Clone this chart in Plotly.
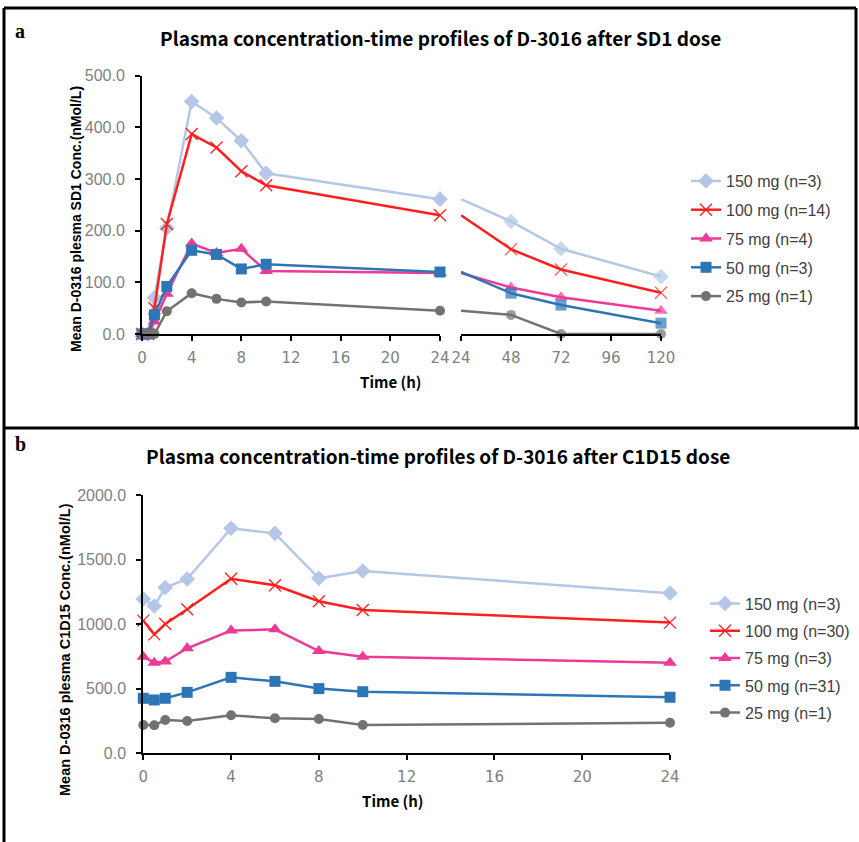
import plotly.graph_objects as go

W, H = 859, 842

# ---------------- data ----------------
doses = ["150 mg", "100 mg", "75 mg", "50 mg", "25 mg"]
n_a = ["n=3", "n=14", "n=4", "n=3", "n=1"]
n_b = ["n=3", "n=30", "n=3", "n=31", "n=1"]

t_a = [0, 0.5, 1, 2, 4, 6, 8, 10, 24]
t_a_late = [24, 48, 72, 120]
a150 = [0, 0, 70, 205, 450, 418, 374, 311, 261]
a100 = [0, 0, 50, 213, 387, 361, 315, 288, 230]
a75 = [0, 0, 24, 78, 175, 157, 165, 122, 118]
a50 = [0, 0, 37, 92, 162, 154, 126, 135, 120]
a25 = [0, 0, 0, 44, 79, 68, 61, 63, 45]
a150_late = [261, 218, 165, 111]
a100_late = [230, 164, 125, 80]
a75_late = [118, 90, 71, 45]
a50_late = [120, 79, 56, 21]
a25_late = [45, 37, 0, 0]

t_b = [0, 0.5, 1, 2, 4, 6, 8, 10, 24]
b150 = [1195, 1141, 1283, 1350, 1742, 1703, 1355, 1412, 1240]
b100 = [1027, 921, 1001, 1115, 1352, 1301, 1177, 1110, 1012]
b75 = [748, 702, 710, 813, 950, 960, 792, 748, 702]
b50 = [426, 413, 426, 472, 588, 557, 501, 477, 434]
b25 = [219, 217, 258, 250, 294, 271, 266, 219, 237]

ticks_a1 = [0, 4, 8, 12, 16, 20, 24]
ticks_a2 = [24, 48, 72, 96, 120]
ticks_b = [0, 4, 8, 12, 16, 20, 24]

title_a = "Plasma concentration-time profiles of D-3016 after SD1 dose"
title_b = "Plasma concentration-time profiles of D-3016 after C1D15 dose"
ytitle_a = "Mean D-0316 plesma SD1 Conc.(nMol/L)"
ytitle_b = "Mean D-0316 plesma C1D15 Conc.(nMol/L)"
xtitle = "Time (h)"

# ---------------- styles ----------------
colors = ["#B4C7E7", "#FF1F1F", "#EC3A96", "#2E75B6", "#767171"]
symbols = ["diamond", "x-thin", "triangle-up", "square", "circle"]
msizes = [12, 12, 12, 11, 10]


def px(x):
    return x / W


def py(y):
    return 1 - y / H


def marker(i, size):
    m = dict(symbol=symbols[i], size=size, color=colors[i])
    if symbols[i] == "x-thin":
        m["line"] = dict(color=colors[i], width=1.3)
    else:
        m["line"] = dict(width=0)
    return m


fig = go.Figure()

early_a = [a150, a100, a75, a50, a25]
late_a = [a150_late, a100_late, a75_late, a50_late, a25_late]
series_b = [b150, b100, b75, b50, b25]

for i in range(5):
    fig.add_trace(go.Scatter(
        x=t_a, y=early_a[i], mode="lines+markers", xaxis="x", yaxis="y",
        line=dict(color=colors[i], width=2.5), marker=marker(i, msizes[i]),
        name=f"{doses[i]} ({n_a[i]})", legend="legend", legendgroup=f"a{i}",
        cliponaxis=False))
    fig.add_trace(go.Scatter(
        x=t_a_late, y=late_a[i], mode="lines+markers", xaxis="x2", yaxis="y",
        line=dict(color=colors[i], width=2.5),
        marker=marker(i, [0] + [msizes[i]] * (len(t_a_late) - 1)),
        showlegend=False, cliponaxis=False))

for i in range(5):
    fig.add_trace(go.Scatter(
        x=t_b, y=series_b[i], mode="lines+markers", xaxis="x3", yaxis="y2",
        line=dict(color=colors[i], width=2.5), marker=marker(i, msizes[i]),
        name=f"{doses[i]} ({n_b[i]})", legend="legend2", legendgroup=f"b{i}",
        cliponaxis=False))

tickfont_x = dict(family="DejaVu Sans", size=15, color="#7F7F7F")
tickfont_y = dict(family="Liberation Sans, Arial", size=16, color="#7F7F7F")

xcommon = dict(showline=True, linecolor="black", linewidth=2, ticks="outside",
               ticklen=5, tickwidth=2, tickcolor="black", showgrid=False,
               zeroline=False, tickfont=tickfont_x, ticklabelstandoff=4,
               automargin=False)
ycommon = dict(showline=True, linecolor="black", linewidth=2, ticks="outside",
               ticklen=5, tickwidth=2, tickcolor="black", showgrid=False,
               zeroline=False, tickfont=tickfont_y, tickformat=".1f",
               ticklabelstandoff=7, automargin=False)

legfont = dict(family="Liberation Sans, Arial", size=16, color="#404040")

fig.update_layout(
    width=W, height=H, autosize=False,
    margin=dict(l=0, r=0, t=0, b=0, pad=0, autoexpand=False),
    paper_bgcolor="white", plot_bgcolor="rgba(0,0,0,0)",
    xaxis=dict(domain=[px(142), px(440)], range=[0, 24], tickvals=ticks_a1,
               anchor="y", **xcommon),
    xaxis2=dict(domain=[px(461), px(661)], range=[24, 120], tickvals=ticks_a2,
                anchor="y", **xcommon),
    yaxis=dict(domain=[py(334), py(75.7)], range=[0, 500], dtick=100,
               anchor="x", **ycommon),
    xaxis3=dict(domain=[px(143.3), px(670)], range=[0, 24], tickvals=ticks_b,
                anchor="y2", **xcommon),
    yaxis2=dict(domain=[py(753.3), py(495)], range=[0, 2000], dtick=500,
                anchor="x3", **ycommon),
    legend=dict(x=px(686), y=py(164), xanchor="left", yanchor="top",
                font=legfont, tracegroupgap=5, bgcolor="rgba(0,0,0,0)",
                itemwidth=30),
    legend2=dict(x=px(705), y=py(586.5), xanchor="left", yanchor="top",
                 font=legfont, tracegroupgap=3.5, bgcolor="rgba(0,0,0,0)",
                 itemwidth=30),
)


def note(text, x, y, font, angle=0):
    return dict(text=text, x=px(x), y=py(y), xref="paper", yref="paper",
                xanchor="center", yanchor="middle", textangle=angle,
                showarrow=False, font=font)


serif = dict(family="Liberation Serif", size=20, color="black")
titlefont = dict(family="Noto Sans CJK SC", size=19, color="black")
ytfont_a = dict(family="Liberation Sans, Arial", size=14, color="black")
ytfont_b = dict(family="Liberation Sans, Arial", size=14.5, color="black")
xtfont = dict(family="Noto Sans CJK SC", size=15, color="black")

ann = [
    note("<b>a</b>", 20, 31, serif),
    note("<b>b</b>", 20, 444, serif),
    note(f"<b>{title_a}</b>", 440, 37, titlefont),
    note(f"<b>{title_b}</b>", 438, 455, titlefont),
    note(f"<b>{ytitle_a}</b>", 76, 219, ytfont_a, -90),
    note(f"<b>{ytitle_b}</b>", 65, 650, ytfont_b, -90),
    note(f"<b>{xtitle}</b>", 390, 382, xtfont),
    note(f"<b>{xtitle}</b>", 392, 800, xtfont),
]
fig.update_layout(annotations=ann)

frame = dict(color="black", width=3)
shapes = [
    dict(type="line", xref="paper", yref="paper", x0=px(4), x1=px(856), y0=py(8), y1=py(8), line=frame),
    dict(type="line", xref="paper", yref="paper", x0=px(4), x1=px(4), y0=py(8), y1=py(842), line=frame),
    dict(type="line", xref="paper", yref="paper", x0=px(856), x1=px(856), y0=py(8), y1=py(428), line=frame),
    dict(type="line", xref="paper", yref="paper", x0=px(4), x1=px(859), y0=py(428), y1=py(428), line=frame),
]
fig.update_layout(shapes=shapes)

fig.write_html(
    "out.html",
    config={"displayModeBar": False},
    post_script=(
        "document.documentElement.style.margin='0';"
        "document.documentElement.style.padding='0';"
        "document.body.style.margin='0';"
        "document.body.style.padding='0';"
        "document.body.style.overflow='hidden';"
    ),
)
